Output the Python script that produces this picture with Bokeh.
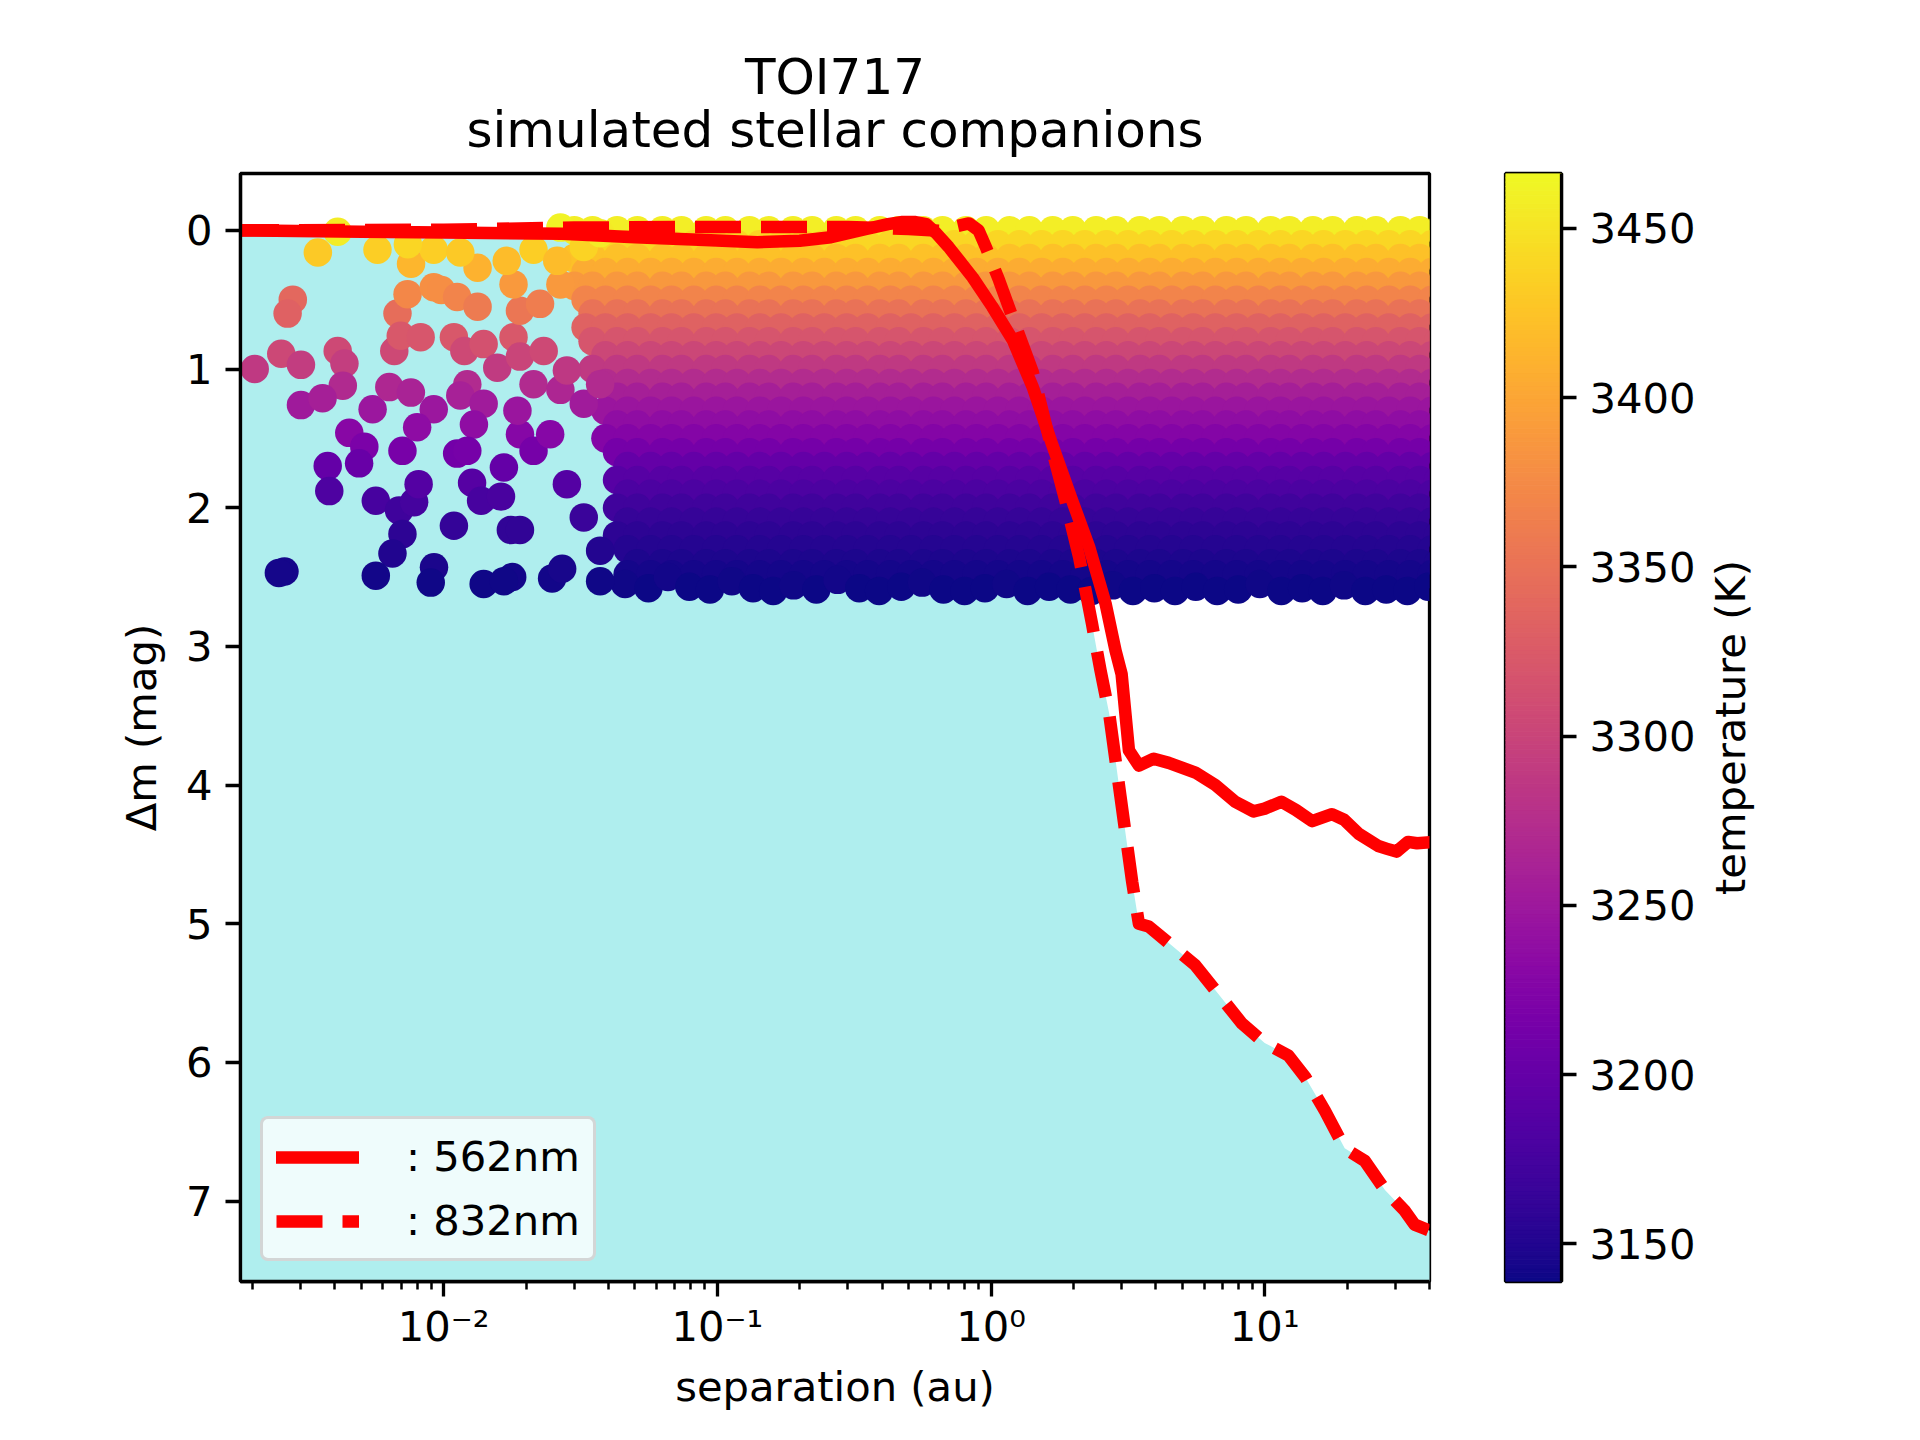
import math
import numpy as np
from bokeh.plotting import figure
from bokeh.models import Range1d, FixedTicker, ColumnDataSource
from bokeh.layouts import row, column
from bokeh.palettes import Plasma256
from bokeh.transform import linear_cmap
from bokeh.core.properties import value
from bokeh.embed import file_html
from bokeh.resources import INLINE

FONT = "DejaVu Sans"
FS = "41.7px"

title_lines = ["TOI717", "simulated stellar companions"]
x_label = "separation (au)"
y_label = "\u0394m (mag)"
c_label = "temperature (K)"

x_ticks = [0.01, 0.1, 1, 10]
x_tick_labels = ["10\u207b\u00b2", "10\u207b\u00b9", "10\u2070", "10\u00b9"]
y_ticks = [0, 1, 2, 3, 4, 5, 6, 7]
c_ticks = [3150, 3200, 3250, 3300, 3350, 3400, 3450]

# isolated simulated companions (left, sparse part)
sp_sep = [0.00204, 0.00255, 0.00301, 0.00281, 0.00269, 0.0041, 0.00434, 0.00428, 0.00301, 0.00361,
          0.00347, 0.0041, 0.00573, 0.00452, 0.00513, 0.00491, 0.00377, 0.00382, 0.00262, 0.0025,
          0.00565, 0.00687, 0.0078, 0.00707, 0.0065, 0.00565, 0.00922, 0.00897, 0.0081, 0.00707,
          0.0055, 0.00633, 0.00759, 0.0092, 0.008, 0.0066, 0.00678, 0.00738, 0.00697, 0.00824,
          0.0092, 0.0098, 0.0076, 0.0092, 0.0074, 0.0112, 0.0109, 0.0119, 0.0122, 0.0115,
          0.014, 0.0129, 0.0112, 0.0122, 0.0127, 0.0137, 0.0109, 0.0166, 0.0162, 0.0176,
          0.019, 0.014, 0.0178, 0.0166, 0.0249, 0.0271, 0.019, 0.0186, 0.0213, 0.0245,
          0.0133, 0.014, 0.018, 0.0157, 0.019, 0.0232, 0.0213, 0.0267, 0.0282, 0.0325,
          0.0373, 0.019, 0.0225, 0.0267, 0.018, 0.017, 0.0133, 0.0115, 0.0213, 0.026,
          0.0325, 0.0267, 0.0373, 0.0282, 0.0325, 0.0373, 0.0373]
sp_dm = [1.00, 0.89, 0.97, 0.50, 0.60, 0.87, 0.96, 1.12, 1.26, 1.21,
         0.16, 0.01, 0.14, 1.46, 1.56, 1.68, 1.70, 1.88, 2.46, 2.47,
         1.95, 2.02, 1.96, 2.19, 2.33, 2.49, 2.43, 2.54, 1.83, 1.59,
         1.29, 1.13, 1.17, 1.29, 1.42, 0.87, 0.60, 0.46, 0.76, 0.77,
         0.41, 0.43, 0.24, 0.14, 0.10, 0.48, 0.77, 0.87, 1.11, 1.19,
         1.25, 1.40, 1.61, 1.59, 1.82, 1.95, 2.13, 1.71, 1.92, 2.16,
         2.16, 2.55, 2.50, 2.53, 2.51, 2.44, 1.47, 1.30, 1.59, 1.47,
         0.55, 0.82, 0.77, 0.99, 0.91, 0.87, 1.11, 1.15, 1.01, 1.25,
         1.11, 0.58, 0.53, 0.39, 0.39, 0.22, 0.27, 0.16, 0.14, 0.22,
         0.12, -0.02, 0.02, 1.83, 2.07, 2.31, 2.53]
sp_temp = [3288, 3305, 3292, 3340, 3332, 3306, 3293, 3270, 3252, 3258,
           3430, 3456, 3434, 3230, 3219, 3203, 3200, 3182, 3144, 3143,
           3176, 3170, 3175, 3158, 3150, 3142, 3146, 3141, 3187, 3216,
           3248, 3268, 3262, 3248, 3235, 3306, 3345, 3372, 3322, 3320,
           3380, 3378, 3415, 3434, 3440, 3368, 3322, 3306, 3271, 3260,
           3253, 3237, 3213, 3215, 3188, 3176, 3162, 3199, 3178, 3160,
           3160, 3141, 3142, 3141, 3142, 3145, 3229, 3247, 3215, 3229,
           3360, 3315, 3322, 3289, 3301, 3306, 3271, 3266, 3287, 3253,
           3271, 3354, 3362, 3389, 3389, 3420, 3411, 3430, 3434, 3420,
           3437, 3462, 3455, 3187, 3166, 3151, 3141]

# densely populated band (right part), read row by row
row_dm = [0.0, 0.1, 0.2, 0.3, 0.4, 0.5, 0.6, 0.7, 0.8, 0.9, 1.0, 1.1, 1.2, 1.3,
          1.4, 1.5, 1.6, 1.7, 1.8, 1.9, 2.0, 2.1, 2.2, 2.3, 2.4, 2.48]
row_temp = [3458, 3440, 3424, 3405, 3387, 3368, 3350, 3334, 3318, 3303, 3288, 3273, 3259, 3247,
            3237, 3226, 3214, 3200, 3189, 3180, 3172, 3164, 3157, 3152, 3147, 3143]
row_start = [0.030, 0.029, 0.028, 0.029, 0.030, 0.031, 0.032, 0.033, 0.034, 0.035, 0.035, 0.036,
             0.036, 0.037, 0.038, 0.038, 0.039, 0.040, 0.040, 0.041, 0.041, 0.042, 0.043, 0.043,
             0.044, 0.044]
row_sep_a = [0.030, 0.035, 0.043, 0.051, 0.063, 0.074, 0.091, 0.107, 0.131, 0.154, 0.189, 0.222,
             0.272, 0.32, 0.392, 0.46, 0.565, 0.665, 0.81, 0.96, 1.17, 1.38, 1.68, 1.99, 2.42,
             2.86, 3.5, 4.12, 5.03, 5.93, 7.24, 8.55, 10.5, 12.3, 15.0, 17.7, 21.7, 25.5, 31.3,
             36.8, 43.0]
row_sep_b = [0.028, 0.033, 0.039, 0.047, 0.057, 0.068, 0.082, 0.099, 0.118, 0.143, 0.171, 0.206,
             0.246, 0.297, 0.354, 0.428, 0.51, 0.615, 0.735, 0.885, 1.06, 1.27, 1.53, 1.83, 2.2,
             2.64, 3.17, 3.8, 4.57, 5.48, 6.6, 7.9, 9.5, 11.4, 13.7, 16.4, 19.7, 23.6, 28.4,
             34.0, 40.8]

# lower edge of the band (deepest companions), read point by point
edge_sep = [0.046, 0.056, 0.066, 0.079, 0.094, 0.113, 0.135, 0.16, 0.19, 0.23, 0.275, 0.33,
            0.39, 0.47, 0.56, 0.67, 0.8, 0.95, 1.14, 1.36, 1.63, 1.95, 2.33, 2.78, 3.3, 3.95,
            4.7, 5.6, 6.7, 8.0, 9.6, 11.5, 13.7, 16.3, 19.5, 23.3, 27.8, 33.2, 39.6]
edge_dm = [2.55, 2.58, 2.50, 2.57, 2.59, 2.53, 2.58, 2.60, 2.56, 2.59, 2.52, 2.58, 2.60, 2.57,
           2.54, 2.59, 2.60, 2.58, 2.55, 2.60, 2.57, 2.59, 2.60, 2.56, 2.60, 2.58, 2.60, 2.57,
           2.60, 2.59, 2.55, 2.60, 2.58, 2.60, 2.56, 2.60, 2.59, 2.60, 2.57]
edge_temp = [3141, 3140, 3142, 3140, 3140, 3141, 3140, 3140, 3141, 3140, 3142, 3140, 3140, 3140,
             3141, 3140, 3140, 3140, 3141, 3140, 3140, 3140, 3140, 3141, 3140, 3140, 3140, 3140,
             3140, 3140, 3141, 3140, 3140, 3140, 3141, 3140, 3140, 3140, 3140]

# contrast curves
sep_562 = [0.0017, 0.005, 0.01, 0.027, 0.05, 0.09, 0.14, 0.2, 0.26, 0.35, 0.42, 0.475, 0.53,
           0.58, 0.63, 0.70, 0.857, 1.01, 1.2, 1.42, 1.67, 1.98, 2.28, 2.62, 2.85, 3.0, 3.19,
           3.47, 3.93, 4.46, 5.58, 6.6, 7.8, 9.1, 10.0, 11.5, 13.0, 14.9, 17.6, 19.5, 22.0,
           26.0, 28.0, 30.3, 33.4, 36.0, 42.0]
dm_562 = [0.0, 0.01, 0.015, 0.025, 0.05, 0.07, 0.085, 0.075, 0.05, -0.01, -0.045, -0.06, -0.06,
          -0.045, 0.02, 0.12, 0.34, 0.55, 0.79, 1.13, 1.54, 1.95, 2.28, 2.69, 3.03, 3.2, 3.75,
          3.86, 3.81, 3.84, 3.91, 4.0, 4.12, 4.19, 4.17, 4.12, 4.18, 4.26, 4.21, 4.25, 4.35,
          4.44, 4.46, 4.48, 4.41, 4.42, 4.41]
sep_832 = [0.0017, 0.01, 0.03, 0.1, 0.3, 0.5, 0.6, 0.68, 0.75, 0.83, 0.9, 0.957, 1.07, 1.2,
           1.42, 1.67, 1.87, 2.10, 2.34, 2.51, 2.70, 2.97, 3.28, 3.47, 3.77, 4.34, 5.58, 6.98,
           8.26, 10.0, 12.2, 14.1, 16.6, 19.6, 23.2, 27.5, 32.5, 35.3, 38.5, 42.0]
dm_832 = [0.0, -0.005, -0.02, -0.025, -0.025, -0.01, 0.0, 0.005, -0.03, -0.05, 0.0, 0.12, 0.36,
          0.63, 1.02, 1.58, 1.95, 2.36, 2.84, 3.17, 3.48, 4.08, 4.70, 5.0, 5.02, 5.12, 5.30,
          5.54, 5.72, 5.86, 5.95, 6.11, 6.35, 6.62, 6.71, 6.92, 7.07, 7.17, 7.20, 7.23]

t_low, t_high = 3138.9, 3466.2
x_lo, x_hi = 0.00181, 40.0
y_top, y_bottom = -0.41, 7.58

# ---------------------------------------------------------------- data assembly
d_sep, d_dm, d_temp = [], [], []
for i, (dm, t, s0) in enumerate(zip(row_dm, row_temp, row_start)):
    seps = row_sep_a if i % 2 == 0 else row_sep_b
    for s in seps:
        if s >= s0:
            d_sep.append(s)
            d_dm.append(dm)
            d_temp.append(t)

src = ColumnDataSource(dict(sep=d_sep + edge_sep + sp_sep,
                            dm=d_dm + edge_dm + sp_dm,
                            temp=d_temp + edge_temp + sp_temp))

LW = 12.5
TICK_W = 3.3
TOP_H = 171       # height of the title strip
FRAME_H = 1108
BOT = 151


def style_axis(ax):
    ax.axis_line_width = TICK_W
    ax.axis_line_color = "black"
    ax.major_tick_out = 15
    ax.major_tick_in = 0
    ax.major_tick_line_width = TICK_W
    ax.major_tick_line_color = "black"
    ax.minor_tick_out = 8
    ax.minor_tick_in = 0
    ax.minor_tick_line_width = 2.5
    ax.minor_tick_line_color = "black"
    ax.major_label_text_font = FONT
    ax.major_label_text_font_size = FS
    ax.major_label_text_color = "black"
    ax.axis_label_text_font = FONT
    ax.axis_label_text_font_size = FS
    ax.axis_label_text_font_style = "normal"
    ax.axis_label_text_color = "black"


def bare(fig):
    fig.grid.visible = False
    fig.outline_line_color = None


# ---------------------------------------------------------------- title strip
tf = figure(width=1459, height=TOP_H, x_range=Range1d(0, 1), y_range=Range1d(TOP_H, 0),
            output_backend="svg", toolbar_location=None,
            x_axis_location=None, y_axis_location=None,
            min_border_left=240, min_border_right=30, min_border_top=0, min_border_bottom=0,
            background_fill_color="white", border_fill_color="white")
bare(tf)
tf.text(x=[0.5, 0.5], y=[76.7, 129.7], text=title_lines,
        text_align="center", text_baseline="alphabetic",
        text_font=value(FONT), text_font_size=value("50px"), text_color="black")

# ---------------------------------------------------------------- main plot
H = 2 + FRAME_H + BOT
p = figure(width=1459, height=H, x_axis_type="log",
           x_range=Range1d(x_lo, x_hi), y_range=Range1d(y_bottom, y_top),
           output_backend="svg", toolbar_location=None,
           min_border_left=240, min_border_right=30, min_border_top=2, min_border_bottom=BOT,
           background_fill_color="white", border_fill_color="white")
p.grid.visible = False
p.outline_line_color = "black"
p.outline_line_width = TICK_W
p.outline_line_alpha = 1.0

p.varea(x=sep_832, y1=dm_832, y2=y_bottom, fill_color="#afeeee", fill_alpha=1.0)

p.scatter(x="sep", y="dm", source=src, size=28.5, marker="circle",
          fill_color=linear_cmap("temp", Plasma256, t_low, t_high), line_color=None)

p.line(sep_562, dm_562, line_color="#ff0000", line_width=LW, line_join="round",
       line_cap="square", legend_label=": 562nm")
p.line(sep_832, dm_832, line_color="#ff0000", line_width=LW, line_join="round",
       line_dash="46 20", legend_label=": 832nm")

xax = p.xaxis[0]
x_minor = [m * 10.0 ** k for k in range(-3, 2) for m in range(2, 10)]
x_minor = [v for v in x_minor if x_lo <= v <= x_hi]
xax.ticker = FixedTicker(ticks=x_ticks, minor_ticks=x_minor)
ovr = {}
for t, s in zip(x_ticks, x_tick_labels):
    ovr[t] = s
    ovr[str(t)] = s
xax.major_label_overrides = ovr
style_axis(xax)
xax.axis_label = x_label
xax.major_label_standoff = 5
xax.axis_label_standoff = 8

yax = p.yaxis[0]
yax.ticker = FixedTicker(ticks=y_ticks)
style_axis(yax)
yax.axis_label = y_label
yax.major_label_standoff = 13
yax.axis_label_standoff = 17

lg = p.legend[0]
lg.location = "bottom_left"
lg.margin = 20
lg.padding = 13
lg.spacing = 15
lg.glyph_width = 83
lg.glyph_height = 48
lg.label_height = 48
lg.label_standoff = 47
lg.label_text_font = FONT
lg.label_text_font_size = FS
lg.label_text_color = "black"
lg.background_fill_color = "white"
lg.background_fill_alpha = 0.8
lg.border_line_color = "#cccccc"
lg.border_line_alpha = 0.8
lg.border_line_width = TICK_W
try:
    lg.border_radius = 8
except Exception:
    pass

# ---------------------------------------------------------------- colour bar
c = figure(width=241, height=H, x_range=Range1d(0, 1), y_range=Range1d(t_low, t_high),
           output_backend="svg", toolbar_location=None,
           x_axis_location=None, y_axis_location="right",
           min_border_left=46, min_border_right=139, min_border_top=2, min_border_bottom=BOT,
           background_fill_color="white", border_fill_color="white")
c.grid.visible = False
c.outline_line_color = "black"
c.outline_line_width = TICK_W
edges = np.linspace(t_low, t_high, len(Plasma256) + 1)
c.quad(left=0, right=1, bottom=edges[:-1], top=edges[1:],
       fill_color=list(Plasma256), line_color=list(Plasma256), line_width=1)
cax = c.yaxis[0]
cax.ticker = FixedTicker(ticks=c_ticks)
style_axis(cax)
cax.major_label_standoff = 13

# ---------------------------------------------------------------- colour bar label
lf = figure(width=60, height=H, x_range=Range1d(0, 1), y_range=Range1d(0, 1),
            output_backend="svg", toolbar_location=None,
            x_axis_location=None, y_axis_location=None,
            min_border_left=0, min_border_right=0, min_border_top=2, min_border_bottom=BOT,
            background_fill_color="white", border_fill_color="white")
bare(lf)
lf.text(x=[0.5], y=[0.5], text=[c_label], angle=math.pi / 2,
        text_align="center", text_baseline="middle",
        text_font=value(FONT), text_font_size=value(FS), text_color="black")

layout = column(tf, row(p, c, lf))
open("out.html", "w").write(file_html(layout, INLINE, "TOI717"))
